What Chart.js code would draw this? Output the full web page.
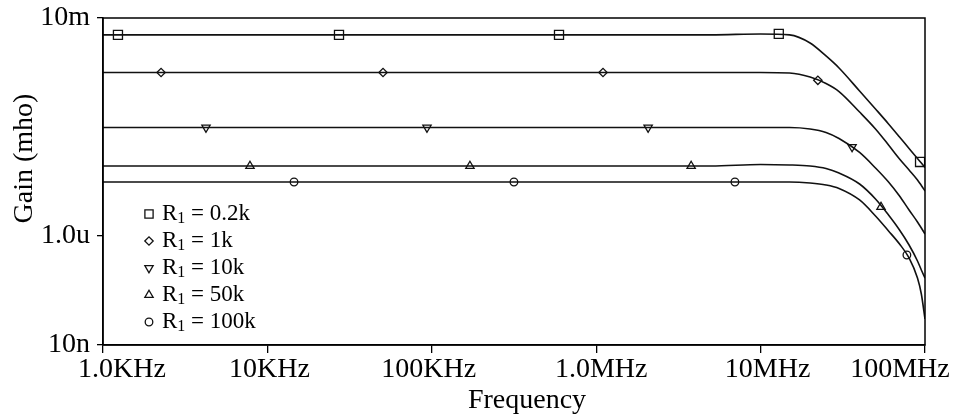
<!DOCTYPE html>
<html lang="en">
<head>
<meta charset="UTF-8">
<title>Gain vs Frequency</title>
<script src="https://cdn.jsdelivr.net/npm/chart.js"></script>
<style>
    html, body { margin: 0; padding: 0; background: #fff; }
</style>
</head>
<body>
<canvas id="myChart" width="957" height="419"></canvas>
<script>
    // frequency points (Hz), shared by all curves
    const freq = [1e3, 1e4, 1e5, 1e6, 5e6, 1e7, 1.5e7, 2e7, 2.5e7, 3e7, 4e7, 5e7, 6e7, 7e7, 8e7, 9e7, 9.5e7, 1e8];

    // gain (mho) for each R1
    const gain_02k  = [4.9e-3, 4.9e-3, 4.9e-3, 4.9e-3, 4.9e-3, 5.1e-3, 4.9e-3, 3.48e-3, 2.01e-3, 1.21e-3, 4.58e-4, 2.14e-4, 1.14e-4, 6.56e-5, 4.04e-5, 2.64e-5, 2.18e-5, 1.81e-5];
    const gain_1k   = [1.0e-3, 1.0e-3, 1.0e-3, 1.0e-3, 1.0e-3, 1.0e-3, 9.79e-4, 8.27e-4, 6.28e-4, 4.48e-4, 1.88e-4, 9.19e-5, 4.68e-5, 2.59e-5, 1.63e-5, 1.07e-5, 8.45e-6, 6.70e-6];
    const gain_10k  = [9.79e-5, 9.79e-5, 9.79e-5, 9.79e-5, 9.79e-5, 9.79e-5, 9.79e-5, 9.19e-5, 7.93e-5, 6.15e-5, 3.41e-5, 1.77e-5, 9.79e-6, 5.42e-6, 3.0e-6, 1.81e-6, 1.40e-6, 1.09e-6];
    const gain_50k  = [1.92e-5, 1.92e-5, 1.92e-5, 1.92e-5, 1.92e-5, 2.05e-5, 2.01e-5, 1.92e-5, 1.73e-5, 1.43e-5, 9.0e-6, 4.78e-6, 2.43e-6, 1.29e-6, 6.84e-7, 3.48e-7, 2.38e-7, 1.69e-7];
    const gain_100k = [9.79e-6, 9.79e-6, 9.79e-6, 9.79e-6, 9.79e-6, 9.79e-6, 9.79e-6, 9.38e-6, 8.63e-6, 7.45e-6, 4.58e-6, 2.33e-6, 1.24e-6, 7.13e-7, 3.95e-7, 1.69e-7, 8.63e-8, 3.0e-8];

    // marker positions on each curve
    const mark_02k_f  = [1233, 27260, 5.94e5, 1.29e7, 9.33e7];
    const mark_02k_g  = [4.9e-3, 4.9e-3, 4.9e-3, 5.1e-3, 2.28e-5];
    const mark_1k_f   = [2255, 50500, 1.10e6, 2.23e7];
    const mark_1k_g   = [1.0e-3, 1.0e-3, 1.0e-3, 7.2e-4];
    const mark_10k_f  = [4232, 93500, 2.07e6, 3.6e7];
    const mark_10k_g  = [9.79e-5, 9.79e-5, 9.79e-5, 4.3e-5];
    const mark_50k_f  = [7834, 170600, 3.78e6, 5.4e7];
    const mark_50k_g  = [1.92e-5, 1.92e-5, 1.92e-5, 3.4e-6];
    const mark_100k_f = [14520, 316000, 6.98e6, 7.76e7];
    const mark_100k_g = [9.79e-6, 9.79e-6, 9.79e-6, 4.48e-7];

    const r1_labels = ['0.2k', '1k', '10k', '50k', '100k'];

    // axis ticks
    const xTickVals = [1e3, 1e4, 1e5, 1e6, 1e7, 1e8];
    const xTickLabels = ['1.0KHz', '10KHz', '100KHz', '1.0MHz', '10MHz', '100MHz'];
    const yTickVals = [1e-8, 1e-6, 1e-2];
    const yTickLabels = ['10n', '1.0u', '10m'];

    const FONT = "'Liberation Serif', 'Times New Roman', serif";
    const INK = '#000';
    const xLabelNudge = [19, 2, -3, 5, 7, -25];

    const markerStyle = [
        { pointStyle: 'rect', radius: 6.4, rotation: 0 },
        { pointStyle: 'rectRot', radius: 4.2, rotation: 0 },
        { pointStyle: 'triangle', radius: 4.8, rotation: 180 },
        { pointStyle: 'triangle', radius: 4.8, rotation: 0 },
        { pointStyle: 'circle', radius: 3.8, rotation: 0 }
    ];

    function pairs(xs, ys) {
        return xs.map((x, i) => ({ x: x, y: ys[i] }));
    }

    const curves = [gain_02k, gain_1k, gain_10k, gain_50k, gain_100k];
    const marks = [[mark_02k_f, mark_02k_g], [mark_1k_f, mark_1k_g], [mark_10k_f, mark_10k_g],
                   [mark_50k_f, mark_50k_g], [mark_100k_f, mark_100k_g]];

    let datasets = [];
    curves.forEach(function (g, i) {
        datasets.push({
            label: 'R1 = ' + r1_labels[i],
            data: pairs(freq, g),
            borderColor: '#111',
            borderWidth: 1.6,
            pointRadius: 0,
            fill: false,
            cubicInterpolationMode: 'monotone'
        });
    });
    marks.forEach(function (m, i) {
        datasets.push({
            label: 'marker ' + r1_labels[i],
            data: pairs(m[0], m[1]),
            showLine: false,
            pointStyle: markerStyle[i].pointStyle,
            pointRadius: markerStyle[i].radius,
            rotation: markerStyle[i].rotation,
            pointBorderColor: '#111',
            pointBackgroundColor: 'rgba(0,0,0,0)',
            pointBorderWidth: 1.3
        });
    });

    // frame, x labels, axis titles and legend
    const decor = {
        id: 'decor',
        afterDraw(chart) {
            const ctx = chart.ctx;
            const a = chart.chartArea;
            const xs = chart.scales.x;
            ctx.save();
            ctx.strokeStyle = INK;
            ctx.lineWidth = 1.5;
            ctx.strokeRect(a.left, a.top, a.right - a.left, a.bottom - a.top);

            ctx.fillStyle = INK;
            ctx.font = '28px ' + FONT;
            ctx.textAlign = 'center';
            ctx.textBaseline = 'alphabetic';
            xTickVals.forEach(function (v, i) {
                ctx.fillText(xTickLabels[i], xs.getPixelForValue(v) + xLabelNudge[i], 377);
            });
            ctx.fillText('Frequency', 527, 408);

            ctx.save();
            ctx.translate(32, 158.5);
            ctx.rotate(-Math.PI / 2);
            ctx.fillText('Gain (mho)', 0, 0);
            ctx.restore();

            // legend
            for (let i = 0; i < r1_labels.length; i++) {
                const base = 220 + i * 27;
                const st = markerStyle[i];
                ctx.strokeStyle = '#111';
                ctx.fillStyle = 'rgba(0,0,0,0)';
                ctx.lineWidth = 1.3;
                Chart.helpers.drawPoint(ctx, {
                    pointStyle: st.pointStyle,
                    radius: st.pointStyle === 'rect' ? 5.8 : st.radius,
                    rotation: st.rotation,
                    borderWidth: 1.3
                }, 149, base - 6);
                ctx.fillStyle = INK;
                ctx.textAlign = 'left';
                ctx.font = '23px ' + FONT;
                ctx.fillText('R', 162, base);
                let w = ctx.measureText('R').width;
                ctx.font = '16px ' + FONT;
                ctx.fillText('1', 162 + w, base + 3);
                let w2 = ctx.measureText('1').width;
                ctx.font = '23px ' + FONT;
                ctx.fillText(' = ' + r1_labels[i], 162 + w + w2, base);
            }
            ctx.restore();
        }
    };

    const ctx = document.getElementById('myChart');
    const myChart = new Chart(ctx, {
        type: 'line',
        data: { datasets: datasets },
        options: {
            responsive: false,
            animation: false,
            layout: { padding: { top: 18, right: 32, left: 0, bottom: 0 } },
            plugins: {
                legend: { display: false },
                tooltip: { enabled: false }
            },
            scales: {
                x: {
                    type: 'logarithmic',
                    min: 1e3,
                    max: 1e8,
                    afterBuildTicks: (scale) => { scale.ticks = xTickVals.map(v => ({ value: v })); },
                    afterFit: (scale) => {
                        scale.height = 74;
                        scale.paddingLeft = 0;
                        scale.paddingRight = 0;
                    },
                    ticks: { display: false },
                    grid: { drawOnChartArea: false, drawTicks: true, tickLength: 8, tickColor: INK, color: INK, lineWidth: 1.3 },
                    border: { display: true, color: INK, width: 1.5 }
                },
                y: {
                    type: 'logarithmic',
                    min: 1e-8,
                    max: 1e-2,
                    afterBuildTicks: (scale) => { scale.ticks = yTickVals.map(v => ({ value: v })); },
                    afterFit: (scale) => {
                        scale.width = 103;
                        scale.paddingTop = 0;
                        scale.paddingBottom = 0;
                    },
                    ticks: {
                        color: INK,
                        padding: 7,
                        font: { family: FONT, size: 28 },
                        callback: (v) => yTickLabels[yTickVals.indexOf(v)]
                    },
                    grid: { drawOnChartArea: false, drawTicks: true, tickLength: 6, tickColor: INK, color: INK, lineWidth: 1.3 },
                    border: { display: true, color: INK, width: 1.5 }
                }
            }
        },
        plugins: [decor]
    });
</script>
</body>
</html>
